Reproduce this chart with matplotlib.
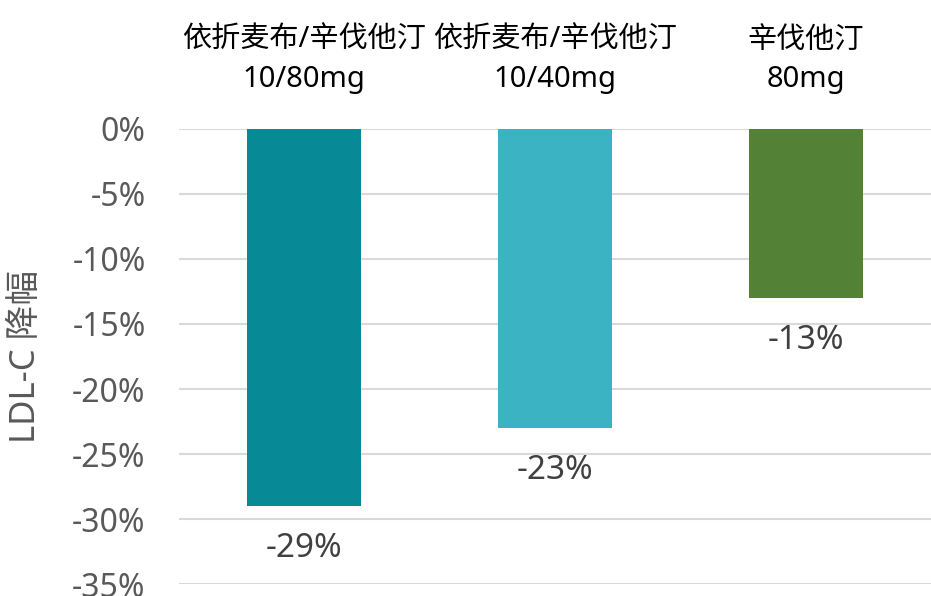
import matplotlib.pyplot as plt
from matplotlib.ticker import FuncFormatter

plt.rcParams['font.family'] = ['Noto Sans', 'Noto Sans CJK SC', 'DejaVu Sans']

# LDL-C reduction by regimen
groups = ['依折麦布/辛伐他汀\n10/80mg', '依折麦布/辛伐他汀\n10/40mg', '辛伐他汀\n80mg']
reduction = [-29, -23, -13]
colors = ['#078A96', '#3BB3C3', '#538135']
yticks = [0, -5, -10, -15, -20, -25, -30, -35]

fig = plt.figure(figsize=(9.31, 5.96), dpi=100)
ax = fig.add_axes([0.1923, 0.0201, 0.8077, 0.7635])

x = range(len(groups))
bars = ax.bar(x, reduction, width=0.455, color=colors, zorder=3)

for xi, v in zip(x, reduction):
    ax.annotate(f'{v}%', (xi, v), xytext=(0, -19), textcoords='offset points',
                ha='center', va='top', fontsize=24, color='#404040')

ax.set_xlim(-0.5, 2.5)
ax.set_ylim(-35, 0)
ax.set_yticks(yticks)
ax.yaxis.set_major_formatter(FuncFormatter(lambda v, p: f'{v:.0f}%'))
ax.tick_params(axis='y', length=0, pad=24, labelsize=23, labelcolor='#595959')

ax.xaxis.tick_top()
ax.set_xticks(list(x))
ax.set_xticklabels(groups, fontsize=21, color='#000000', linespacing=1.45)
ax.tick_params(axis='x', length=0, pad=25)

ax.grid(axis='y', color='#D9D9D9', linewidth=1.5, zorder=0)
for s in ax.spines.values():
    s.set_visible(False)

ax.set_ylabel('LDL-C 降幅', fontsize=25, color='#595959')
ax.yaxis.set_label_coords(-0.181, 0.5)

fig.savefig('out.png', dpi=100)
